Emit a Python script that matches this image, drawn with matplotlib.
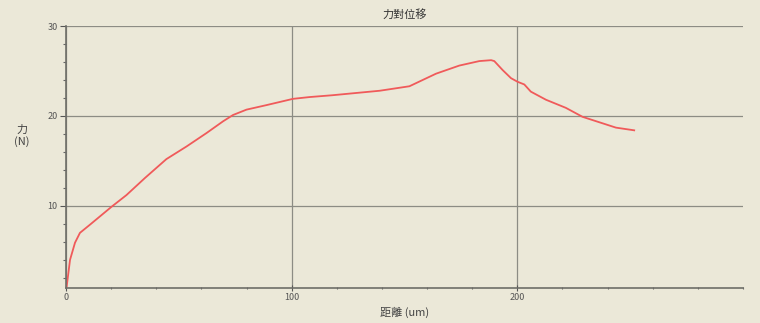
import matplotlib
matplotlib.use("Agg")
import matplotlib.pyplot as plt
from matplotlib.ticker import MultipleLocator

plt.rcParams['font.family'] = ['Noto Sans CJK TC', 'DejaVu Sans']

# distance (um) and force (N)
distance = [0, 0.3, 1.8, 4.0, 6.2, 10.6, 20.2, 26.8, 35.0, 44.5, 53.4, 62.3,
            69.6, 74.0, 80.0, 88.8, 100.6, 108.0, 118.0, 139.0, 152.2, 164.0,
            174.3, 183.2, 188.4, 189.8, 193.5, 197.2, 200.1, 203.1, 206.0,
            212.7, 221.5, 228.9, 236.3, 243.7, 251.8]
force = [0.9, 1.0, 4.0, 5.9, 7.0, 7.9, 9.9, 11.2, 13.1, 15.2, 16.6, 18.1,
         19.4, 20.1, 20.7, 21.2, 21.9, 22.1, 22.3, 22.8, 23.3, 24.7,
         25.6, 26.1, 26.2, 26.1, 25.1, 24.2, 23.8, 23.5, 22.7,
         21.8, 20.9, 19.9, 19.3, 18.7, 18.4]

bg = '#ebe8d8'
fig = plt.figure(figsize=(7.6, 3.23), dpi=100, facecolor=bg)
ax = fig.add_axes([0.0868, 0.1093, 0.8908, 0.8102], facecolor=bg)

ax.plot(distance, force, color='#f05a5a', lw=1.3)

ax.set_xlim(0, 300)
ax.set_ylim(0.9, 30)
ax.xaxis.set_minor_locator(MultipleLocator(20))
ax.yaxis.set_minor_locator(MultipleLocator(2))
ax.set_yticks([10, 20, 30])
ax.set_xticks([0, 100, 200])

ax.grid(True, which='major', color='#8c8c84', lw=0.9)
for s in ['top', 'right']:
    ax.spines[s].set_visible(False)
for s in ['left', 'bottom']:
    ax.spines[s].set_color('#6e6e68')
    ax.spines[s].set_linewidth(1.2)

ax.tick_params(axis='both', which='major', labelsize=6.5, colors='#555555',
               length=4, width=0.8, pad=2)
ax.tick_params(axis='both', which='minor', length=2, width=0.8, colors='#666666')
ax.tick_params(axis='x', which='both', direction='inout')

ax.set_title('力對位移', fontsize=8, color='#333333', pad=6)
ax.set_xlabel('距離 (um)', fontsize=8, color='#444444', labelpad=3)
fig.text(0.029, 0.58, '力\n(N)', fontsize=8, color='#444444',
         ha='center', va='center', linespacing=1.1)

fig.savefig('out.png', dpi=100, facecolor=bg)
